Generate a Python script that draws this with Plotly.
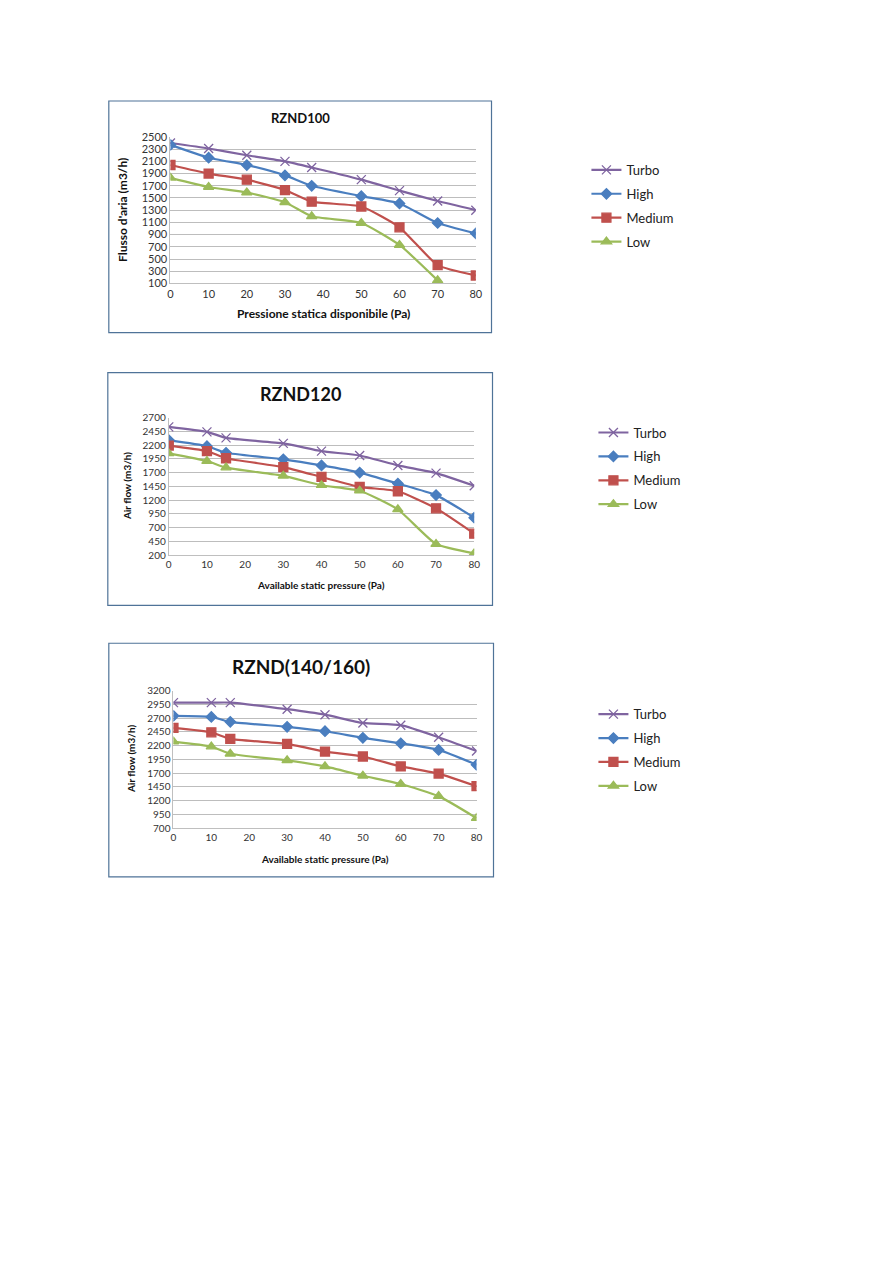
import plotly.graph_objects as go

W, H = 893, 1263

series_names = ["Turbo", "High", "Medium", "Low"]
colors = {"Turbo": "#7f64a0", "High": "#4a7ebf", "Medium": "#c0504d", "Low": "#9bbb59"}
symbols = {"Turbo": "x-thin-open", "High": "diamond", "Medium": "square", "Low": "triangle-up"}
sizes = {"Turbo": 9, "High": 8, "Medium": 9, "Low": 9}

# Chart 1: RZND100
c1_x = [0, 10, 20, 30, 37, 50, 60, 70, 80]
c1_turbo = [2400, 2310, 2200, 2100, 2000, 1800, 1620, 1450, 1300]
c1_high = [2370, 2160, 2040, 1870, 1700, 1530, 1410, 1090, 920]
c1_medium = [2040, 1900, 1800, 1630, 1440, 1360, 1020, 400, 230]
c1_low_x = [0, 10, 20, 30, 37, 50, 60, 70]
c1_low = [1830, 1680, 1590, 1430, 1200, 1090, 730, 150]

# Chart 2: RZND120
c2_x = [0, 10, 15, 30, 40, 50, 60, 70, 80]
c2_turbo = [2530, 2440, 2330, 2230, 2090, 2010, 1830, 1690, 1460]
c2_high = [2290, 2180, 2060, 1940, 1830, 1700, 1500, 1290, 880]
c2_medium = [2190, 2090, 1960, 1800, 1620, 1440, 1360, 1050, 590]
c2_low = [2050, 1910, 1790, 1640, 1470, 1370, 1030, 400, 230]

# Chart 3: RZND(140/160)
c3_x = [0, 10, 15, 30, 40, 50, 60, 70, 80]
c3_turbo = [2980, 2980, 2980, 2860, 2760, 2610, 2570, 2350, 2100]
c3_high = [2740, 2720, 2630, 2540, 2460, 2340, 2240, 2120, 1850]
c3_medium = [2520, 2440, 2320, 2230, 2090, 2000, 1820, 1690, 1460]
c3_low = [2270, 2180, 2050, 1930, 1820, 1650, 1500, 1280, 880]

x_ticks = [0, 10, 20, 30, 40, 50, 60, 70, 80]

charts = [
    dict(title="RZND100", title_size=13,
         ytitle="Flusso d'aria (m3/h)", xtitle="Pressione statica disponibile (Pa)",
         data={"Turbo": (c1_x, c1_turbo), "High": (c1_x, c1_high),
               "Medium": (c1_x, c1_medium), "Low": (c1_low_x, c1_low)},
         yrange=[100, 2500], dtick=200,
         plot=(169.7, 475.3, 136, 282.7), frame=(108, 491, 100, 332),
         title_y=117, ytitle_x=121, xtitle_y=313, legend_y=154, legend_x=586,
         tick_size=11, axis_title_size=12),
    dict(title="RZND120", title_size=18,
         ytitle="Air flow (m3/h)", xtitle="Available static pressure (Pa)",
         data={"Turbo": (c2_x, c2_turbo), "High": (c2_x, c2_high),
               "Medium": (c2_x, c2_medium), "Low": (c2_x, c2_low)},
         yrange=[200, 2700], dtick=250,
         plot=(168, 473.7, 417, 554.7), frame=(107, 492, 372, 605),
         title_y=393, ytitle_x=127, xtitle_y=585, legend_y=417, legend_x=593,
         tick_size=10, axis_title_size=10),
    dict(title="RZND(140/160)", title_size=19,
         ytitle="Air flow (m3/h)", xtitle="Available static pressure (Pa)",
         data={"Turbo": (c3_x, c3_turbo), "High": (c3_x, c3_high),
               "Medium": (c3_x, c3_medium), "Low": (c3_x, c3_low)},
         yrange=[700, 3200], dtick=250,
         plot=(172.7, 476, 690.3, 828), frame=(108, 493, 643, 877),
         title_y=666, ytitle_x=130, xtitle_y=859, legend_y=699, legend_x=593,
         tick_size=10, axis_title_size=10),
]

FONT = "Lato, 'Liberation Sans', sans-serif"

# small empirical correction of the page mapping
SX, AX = 0.9896, 2.1
SY, AY = 0.991, 5.9

def px(x):
    return ((x - AX) / SX) / W

def py(y):
    return 1 - ((y - AY) / SY) / H

fig = go.Figure()
layout = dict(width=W, height=H, margin=dict(l=0, r=0, t=0, b=0),
              paper_bgcolor="white", plot_bgcolor="white",
              font=dict(family=FONT, color="#222"))
shapes, annotations = [], []

for i, ch in enumerate(charts, start=1):
    sfx = "" if i == 1 else str(i)
    xa, ya = "x" + sfx, "y" + sfx
    leg = "legend" + sfx
    for name in series_names:
        xs, ys = ch["data"][name]
        fig.add_trace(go.Scatter(
            x=xs, y=ys, name=name, mode="lines+markers",
            xaxis=xa, yaxis=ya, legend=leg, legendgroup="%s_%d" % (name, i),
            line=dict(color=colors[name], width=2.2, shape="spline", smoothing=0.5),
            marker=dict(symbol=symbols[name], size=sizes[name], color=colors[name],
                        line=dict(color=colors[name], width=1.3)),
        ))
    x0, x1, y0, y1 = ch["plot"]
    layout["xaxis" + sfx] = dict(
        domain=[px(x0), px(x1)], anchor=ya, range=[0, 80],
        tickvals=x_ticks, ticks="", showgrid=False, zeroline=False,
        showline=True, linecolor="#bfbfbf", linewidth=1,
        tickfont=dict(size=ch["tick_size"], color="#333"))
    layout["yaxis" + sfx] = dict(
        domain=[py(y1), py(y0)], anchor=xa, range=ch["yrange"],
        dtick=ch["dtick"], tick0=ch["yrange"][0], ticks="",
        showgrid=True, gridcolor="#bdbdbd", gridwidth=1, zeroline=False,
        showline=True, linecolor="#bfbfbf", linewidth=1,
        tickfont=dict(size=ch["tick_size"], color="#333"))
    fx0, fx1, fy0, fy1 = ch["frame"]
    shapes.append(dict(type="rect", xref="paper", yref="paper",
                       x0=px(fx0), x1=px(fx1), y0=py(fy1), y1=py(fy0),
                       line=dict(color="#4f7398", width=1.2)))
    cx = (x0 + x1) / 2
    annotations.append(dict(text="<b>%s</b>" % ch["title"], xref="paper", yref="paper",
                            x=px(300), y=py(ch["title_y"]), showarrow=False,
                            xanchor="center", yanchor="middle",
                            font=dict(size=ch["title_size"], color="#111")))
    annotations.append(dict(text="<b>%s</b>" % ch["xtitle"], xref="paper", yref="paper",
                            x=px(cx), y=py(ch["xtitle_y"]), showarrow=False,
                            xanchor="center", yanchor="middle",
                            font=dict(size=ch["axis_title_size"], color="#111")))
    annotations.append(dict(text="<b>%s</b>" % ch["ytitle"], xref="paper", yref="paper",
                            x=px(ch["ytitle_x"]), y=py((y0 + y1) / 2), showarrow=False,
                            textangle=-90, xanchor="center", yanchor="middle",
                            font=dict(size=ch["axis_title_size"], color="#111")))
    layout[leg] = dict(x=px(ch["legend_x"]), y=py(ch["legend_y"]),
                       xanchor="left", yanchor="top", bgcolor="rgba(0,0,0,0)",
                       font=dict(size=13, color="#222"), tracegroupgap=4,
                       itemwidth=30)

layout["shapes"] = shapes
layout["annotations"] = annotations
fig.update_layout(**layout)
fig.write_html(
    "out.html",
    config={"displayModeBar": False},
    post_script=("document.documentElement.style.margin='0';"
                 "document.body.style.margin='0';"
                 "document.body.style.padding='0';"
                 "document.documentElement.style.overflow='hidden';"
                 "document.body.style.overflow='hidden';"),
)
